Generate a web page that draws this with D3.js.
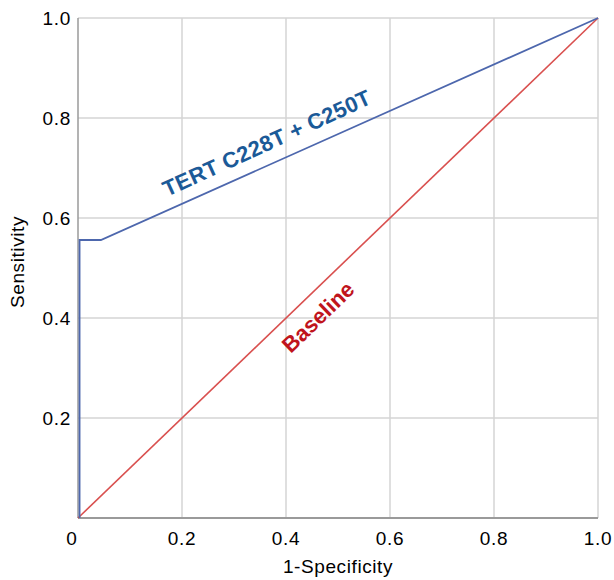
<!DOCTYPE html>
<html>
<head>
<meta charset="utf-8">
<script src="https://cdn.jsdelivr.net/npm/d3@7"></script>
<style>
  body { margin: 0; background: #fff; }
  text { font-family: "Liberation Sans", Arial, Helvetica, sans-serif; }
</style>
</head>
<body>
<script>
// ROC curve - TERT C228T + C250T

// Data
var xTicks = [0, 0.2, 0.4, 0.6, 0.8, 1.0];
var yTicks = [0.2, 0.4, 0.6, 0.8, 1.0];
var rocFpr = [0.003, 0.003, 0.044, 1.0];            // 1-Specificity
var rocTpr = [0.0, 0.556, 0.556, 1.0];              // Sensitivity
var baseFpr = [0, 1];
var baseTpr = [0, 1];

const width = 614;
const height = 580;
const margin = {top: 18, right: 16, bottom: 62, left: 78};

var svg = d3.select('body')
  .append('svg')
  .attr('width', width)
  .attr('height', height);

var x = d3.scaleLinear().domain([0, 1]).range([margin.left, width - margin.right]);
var y = d3.scaleLinear().domain([0, 1]).range([height - margin.bottom, margin.top]);

// grid
svg.append('g')
  .selectAll('line')
  .data(xTicks.slice(1))
  .join('line')
  .attr('x1', d => x(d)).attr('x2', d => x(d))
  .attr('y1', y(0)).attr('y2', y(1))
  .attr('stroke', '#d4d4d4').attr('stroke-width', 1.5);

svg.append('g')
  .selectAll('line')
  .data(yTicks)
  .join('line')
  .attr('x1', x(0)).attr('x2', x(1))
  .attr('y1', d => y(d)).attr('y2', d => y(d))
  .attr('stroke', '#d4d4d4').attr('stroke-width', 1.5);

// axes lines
svg.append('line')
  .attr('x1', x(0)).attr('x2', x(0))
  .attr('y1', y(0)).attr('y2', y(1))
  .attr('stroke', '#9a9a9a').attr('stroke-width', 1.5);
svg.append('line')
  .attr('x1', x(0)).attr('x2', x(1))
  .attr('y1', y(0)).attr('y2', y(0))
  .attr('stroke', '#9a9a9a').attr('stroke-width', 2);

// tick labels
var fmt = d => d === 0 ? '0' : d3.format('.1f')(d);
svg.append('g')
  .selectAll('text')
  .data(xTicks)
  .join('text')
  .attr('x', d => x(d) - (d === 0 ? 6 : 0))
  .attr('y', y(0) + 27)
  .attr('text-anchor', 'middle')
  .attr('font-size', 19)
  .attr('letter-spacing', 0.7)
  .text(fmt);

svg.append('g')
  .selectAll('text')
  .data(yTicks)
  .join('text')
  .attr('x', x(0) - 7)
  .attr('y', d => y(d))
  .attr('dy', '0.36em')
  .attr('text-anchor', 'end')
  .attr('font-size', 19)
  .attr('letter-spacing', 0.7)
  .text(fmt);

// axis titles
svg.append('text')
  .attr('x', (x(0) + x(1)) / 2)
  .attr('y', 573)
  .attr('text-anchor', 'middle')
  .attr('font-size', 19)
  .attr('letter-spacing', 0.6)
  .text('1-Specificity');

svg.append('text')
  .attr('transform', 'translate(24,' + 262 + ') rotate(-90)')
  .attr('text-anchor', 'middle')
  .attr('font-size', 19)
  .attr('letter-spacing', 0.6)
  .text('Sensitivity');

// lines
var line = d3.line().x(d => x(d[0])).y(d => y(d[1]));

svg.append('path')
  .datum(d3.zip(baseFpr, baseTpr))
  .attr('fill', 'none')
  .attr('stroke', '#d9504f')
  .attr('stroke-width', 1.6)
  .attr('d', line);

svg.append('path')
  .datum(d3.zip(rocFpr, rocTpr))
  .attr('fill', 'none')
  .attr('stroke', '#4d67ad')
  .attr('stroke-width', 1.8)
  .attr('d', line);

// labels
svg.append('text')
  .attr('transform', 'translate(' + x(0.363) + ',' + y(0.75) + ') rotate(-24.5)')
  .attr('text-anchor', 'middle')
  .attr('dy', '0.35em')
  .attr('font-size', 22)
  .attr('font-weight', 'bold')
  .attr('letter-spacing', 0.3)
  .attr('fill', '#1b5a98')
  .text('TERT C228T + C250T');

svg.append('text')
  .attr('transform', 'translate(' + x(0.4615) + ',' + y(0.402) + ') rotate(-44)')
  .attr('text-anchor', 'middle')
  .attr('dy', '0.35em')
  .attr('font-size', 22)
  .attr('font-weight', 'bold')
  .attr('fill', '#c0141c')
  .text('Baseline');
</script>
</body>
</html>
